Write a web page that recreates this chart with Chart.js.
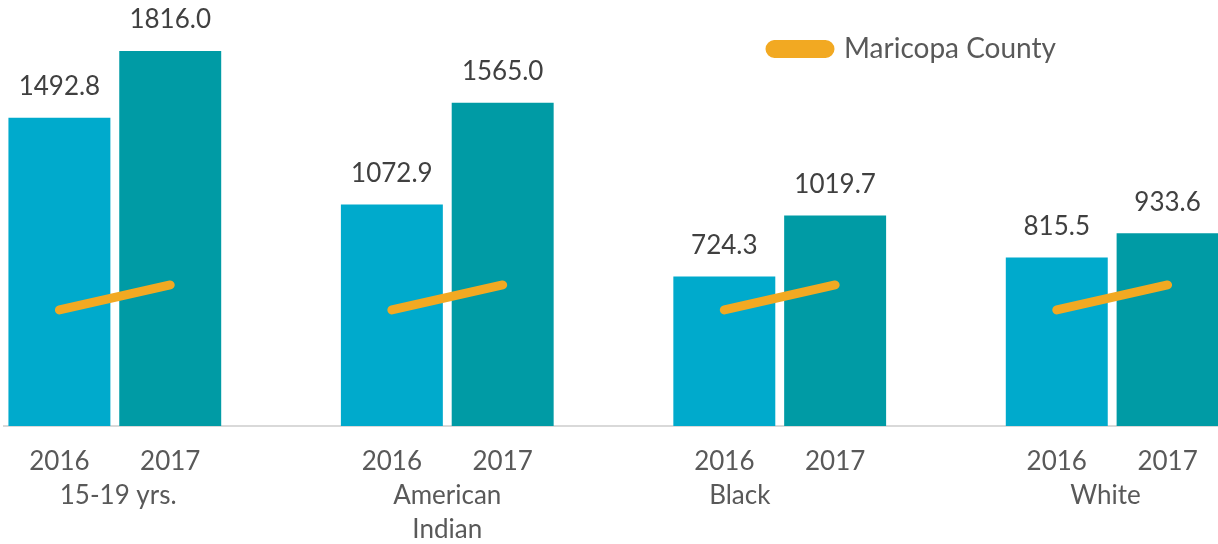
<!DOCTYPE html>
<html>
<head>
<meta charset="utf-8">
<script src="https://cdn.jsdelivr.net/npm/chart.js@4.4.1/dist/chart.umd.min.js"></script>
<style>
  html, body { margin: 0; padding: 0; overflow: hidden; background: #ffffff; }
  #wrap { position: relative; width: 1223px; height: 544px; }
</style>
</head>
<body>
<div id="wrap"><canvas id="c"></canvas></div>
<script>
// ---- data ----
const categories = [' 15-19 yrs.', ['American', 'Indian'], 'Black\u00A0\u00A0\u00A0\u00A0\u00A0\u00A0\u00A0\u00A0\u00A0\u00A0\u00A0\u00A0', 'White\u00A0\u00A0'];
const years = ['2016', '2017'];
const values2016 = [1492.8, 1072.9, 724.3, 815.5];
const values2017 = [1816.0, 1565.0, 1019.7, 933.6];
const maricopa = [562, 683]; // Maricopa County rate, 2016 and 2017

// ---- build slot layout: 2016, 2017, gap per group ----
const slotLabels = [];
const slot2016 = [];
const slot2017 = [];
const slotLine = [];
const groupCenters = [];
categories.forEach((c, i) => {
  const base = slotLabels.length;
  slotLabels.push(years[0], years[1]);
  slot2016.push(values2016[i], null);
  slot2017.push(null, values2017[i]);
  slotLine.push(maricopa[0], maricopa[1]);
  groupCenters.push(base + 0.5);
  if (i < categories.length - 1) {
    slotLabels.push('');
    slot2016.push(null);
    slot2017.push(null);
    slotLine.push(null);
  }
});

const FONT = 'Lato, "Open Sans", sans-serif';
const TEXT = '#595959';

const valueLabels = {
  id: 'valueLabels',
  afterDatasetsDraw(chart) {
    const ctx = chart.ctx;
    ctx.save();
    ctx.font = '26px ' + FONT;
    ctx.fillStyle = '#404040';
    ctx.textAlign = 'center';
    ctx.textBaseline = 'middle';
    chart.data.datasets.forEach((ds, di) => {
      if (ds.type === 'line') return;
      const meta = chart.getDatasetMeta(di);
      meta.data.forEach((el, i) => {
        const v = ds.data[i];
        if (v === null || v === undefined) return;
        ctx.fillText(v.toFixed(1), el.x, el.y - 31);
      });
    });
    ctx.restore();
  }
};

const legendMover = {
  id: 'legendMover',
  afterLayout(chart) {
    const lg = chart.legend;
    if (!lg) return;
    const pad = lg.options.labels.padding;
    const w = lg.right - lg.left;
    lg.left = 770 - pad;
    lg.right = lg.left + w;
    lg.top += 13;
    lg.bottom += 13;
  }
};

new Chart(document.getElementById('c'), {
  data: {
    labels: slotLabels,
    datasets: [
      {
        type: 'line',
        label: 'Maricopa County',
        data: slotLine,
        borderColor: '#F2A922',
        backgroundColor: '#F2A922',
        borderWidth: 9,
        borderCapStyle: 'round',
        pointRadius: 0,
        spanGaps: false,
        order: 0,
        xAxisID: 'x'
      },
      {
        type: 'bar',
        label: years[0],
        data: slot2016,
        backgroundColor: '#00AACC',
        grouped: false,
        barPercentage: 0.92,
        categoryPercentage: 1,
        order: 1,
        xAxisID: 'x'
      },
      {
        type: 'bar',
        label: years[1],
        data: slot2017,
        backgroundColor: '#009BA5',
        grouped: false,
        barPercentage: 0.92,
        categoryPercentage: 1,
        order: 1,
        xAxisID: 'x'
      }
    ]
  },
  options: {
    responsive: true,
    maintainAspectRatio: false,
    animation: false,
    layout: { padding: { left: 4, right: 0, top: 13, bottom: 0 } },
    plugins: {
      tooltip: { enabled: false },
      legend: {
        position: 'chartArea',
        align: 'start',
        labels: {
          filter: (item) => item.text === 'Maricopa County',
          boxWidth: 60,
          boxHeight: 9,
          useBorderRadius: true,
          borderRadius: 4.5,
          padding: 22,
          color: TEXT,
          font: { family: FONT, size: 28 }
        }
      }
    },
    scales: {
      y: { display: false, min: 0, max: 2000 },
      x: {
        type: 'category',
        position: 'bottom',
        offset: true,
        grid: { display: false, drawTicks: false },
        border: { display: true, color: '#D9D9D9', width: 2 },
        afterFit: (axis) => { axis.height = 51; },
        ticks: {
          autoSkip: false, maxRotation: 0, padding: 20,
          color: TEXT, font: { family: FONT, size: 26, lineHeight: 1.2 }
        }
      },
      x2: {
        type: 'linear',
        position: 'bottom',
        min: -0.5,
        max: slotLabels.length - 0.5,
        grid: { display: false, drawTicks: false },
        border: { display: false },
        afterBuildTicks: (axis) => { axis.ticks = groupCenters.map(v => ({ value: v })); },
        afterFit: (axis) => { axis.height = 67; },
        ticks: {
          autoSkip: false, maxRotation: 0, padding: 2,
          color: TEXT, font: { family: FONT, size: 26, lineHeight: 1.3 },
          callback: (value, index) => categories[index]
        }
      }
    }
  },
  plugins: [valueLabels, legendMover]
});
</script>
</body>
</html>
